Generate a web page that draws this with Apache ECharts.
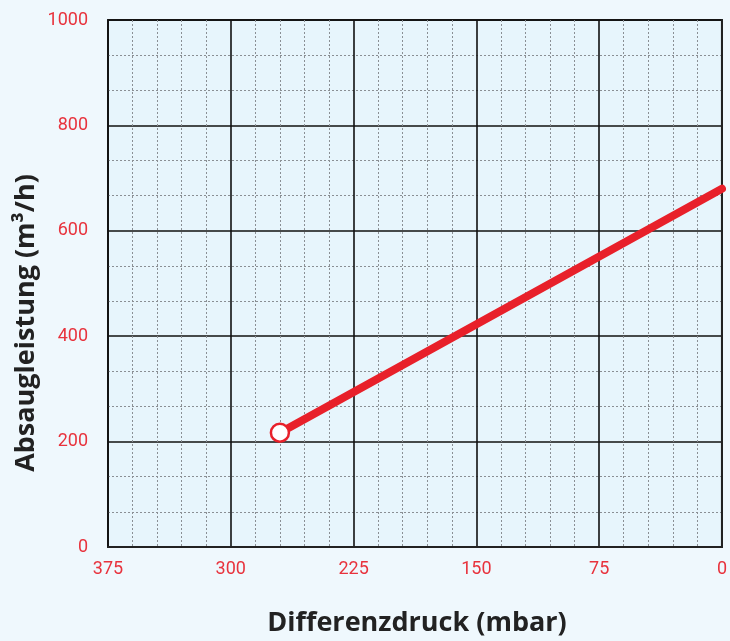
<!DOCTYPE html>
<html>
<head>
<meta charset="utf-8">
<script src="https://cdn.jsdelivr.net/npm/echarts@6/dist/echarts.min.js"></script>
<style>
html,body{margin:0;padding:0;background:#eff8fd;}
#c{width:730px;height:641px;}
</style>
</head>
<body>
<div id="c"></div>
<script>
const xTicks = [375, 300, 225, 150, 75, 0];
const yTicks = [0, 200, 400, 600, 800, 1000];
const pressure = [270, 0];      // mbar
const flow = [217, 680];        // m³/h
const xName = 'Differenzdruck (mbar)';
const yName = 'Absaugleistung (m³/h)';

const chart = echarts.init(document.getElementById('c'));
const data = pressure.map((p, i) => ({
  value: [p, flow[i]],
  symbol: i === 0 ? 'circle' : 'none',
  symbolSize: 18
}));
const red = '#e8202a';
const labelRed = '#e8333d';
chart.setOption({
  backgroundColor: '#eff8fd',
  animation: false,
  grid: {
    left: 108, top: 20, right: 8, bottom: 94,
    show: true, backgroundColor: '#e7f5fc', borderColor: '#222', borderWidth: 2
  },
  xAxis: {
    type: 'value', inverse: true,
    min: xTicks[xTicks.length - 1], max: xTicks[0], interval: 75,
    axisLine: { show: true, lineStyle: { color: '#222', width: 2 } },
    axisTick: { show: false },
    axisLabel: { color: labelRed, fontSize: 18, fontFamily: 'Roboto', margin: 13, formatter: v => String(v) },
    splitLine: { show: true, lineStyle: { color: '#111', width: 1.6 } },
    minorTick: { show: false, splitNumber: 5 },
    minorSplitLine: { show: true, lineStyle: { color: '#8a8f94', width: 1, type: [2, 2] } }
  },
  yAxis: {
    type: 'value',
    min: yTicks[0], max: yTicks[yTicks.length - 1], interval: 200,
    axisLine: { show: true, lineStyle: { color: '#222', width: 2 } },
    axisTick: { show: false },
    axisLabel: { color: labelRed, fontSize: 18, fontFamily: 'Roboto', margin: 20, formatter: v => String(v) },
    splitLine: { show: true, lineStyle: { color: '#111', width: 1.6 } },
    minorTick: { show: false, splitNumber: 3 },
    minorSplitLine: { show: true, lineStyle: { color: '#8a8f94', width: 1, type: [2, 2] } }
  },
  graphic: [
    {
      type: 'text', x: 417, y: 623,
      style: { text: xName, fill: '#222', fontFamily: 'Open Sans', fontWeight: 'bold', fontSize: 27, align: 'center', verticalAlign: 'middle' }
    },
    {
      type: 'text', x: 26, y: 323, rotation: Math.PI / 2,
      style: { text: yName, fill: '#222', fontFamily: 'Open Sans', fontWeight: 'bold', fontSize: 27, align: 'center', verticalAlign: 'middle' }
    }
  ],
  series: [{
    type: 'line',
    data: data,
    clip: false,
    lineStyle: { color: red, width: 8, cap: 'round' },
    itemStyle: { color: '#fff', borderColor: red, borderWidth: 2.5 },
    z: 5
  }]
});
</script>
</body>
</html>
